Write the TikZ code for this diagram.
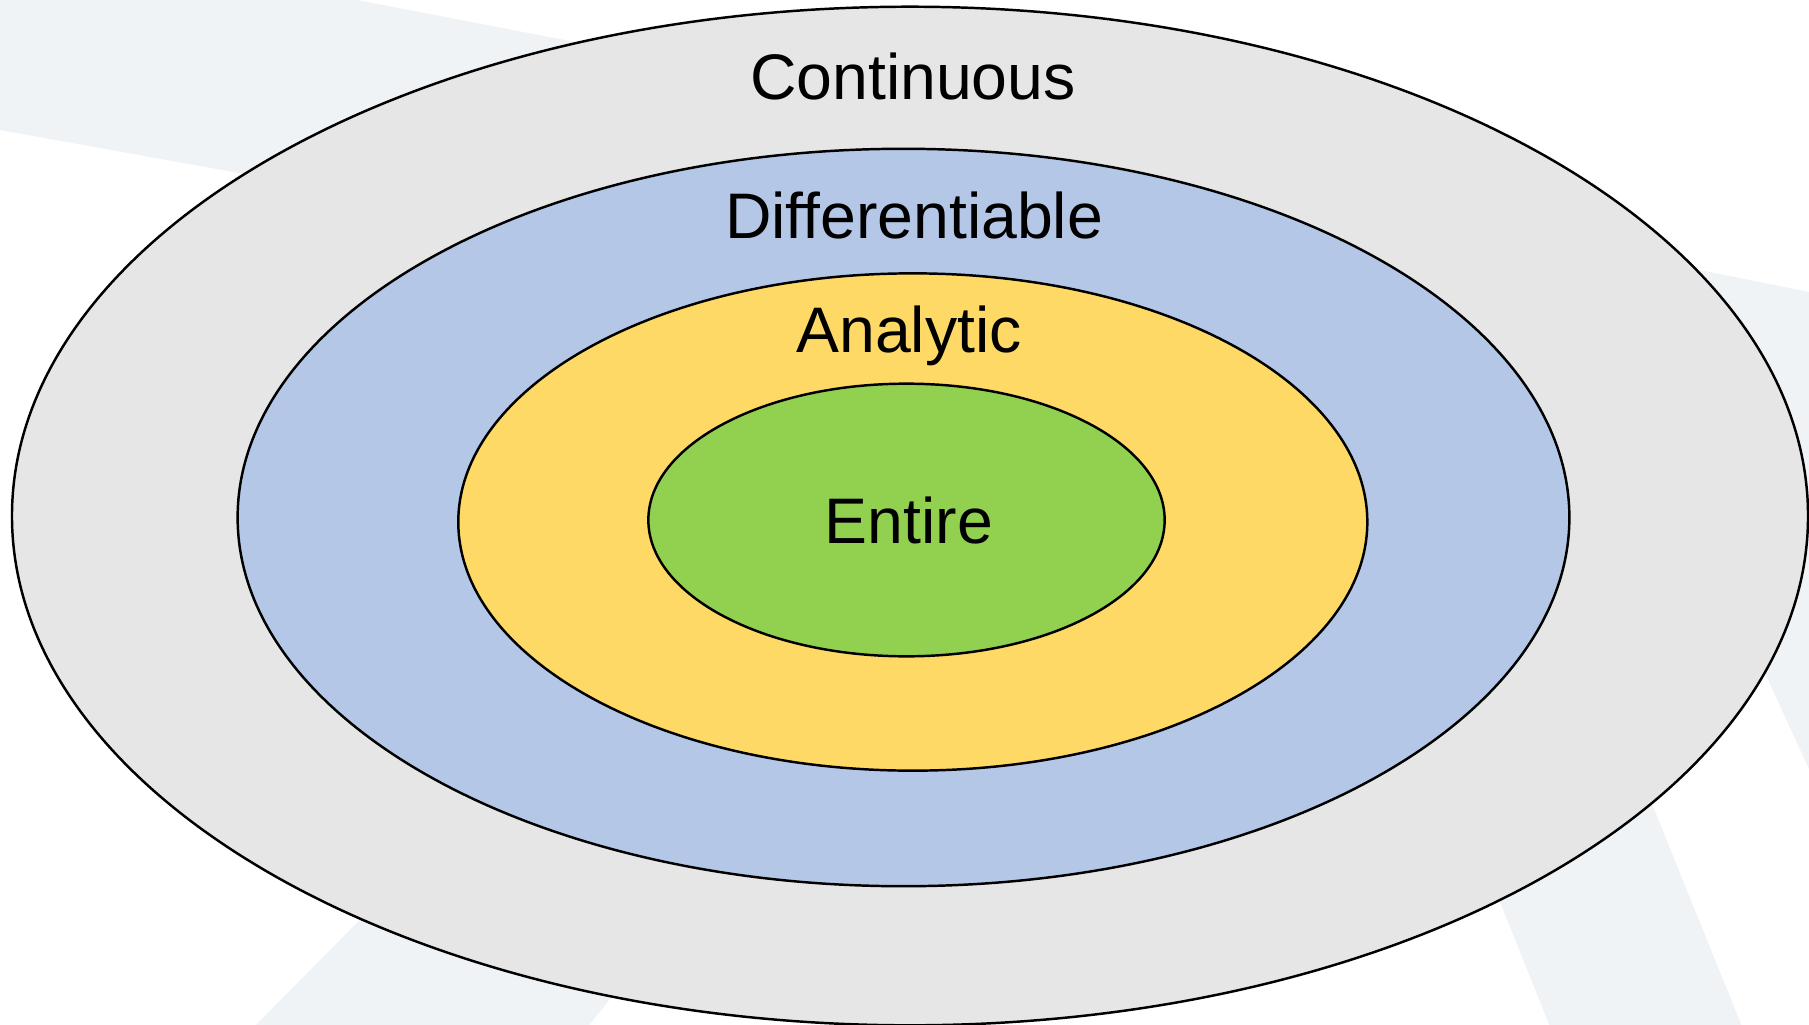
\documentclass[tikz,border=0pt]{standalone}
\usepackage{fontspec}
\setmainfont{Liberation Sans}
\usetikzlibrary{shapes.geometric}

\definecolor{ringgray}{HTML}{E6E6E6}
\definecolor{ringblue}{HTML}{B4C7E7}
\definecolor{ringyellow}{HTML}{FFD966}
\definecolor{ringgreen}{HTML}{92D050}
\definecolor{watermark}{HTML}{F0F3F6}

\tikzset{
  ring/.style={ellipse, draw=black, line width=0.7pt, inner sep=0pt, outer sep=0pt},
  setlabel/.style={anchor=base, inner sep=0pt, font=\fontsize{18.3}{22}\selectfont, text=black},
  faint/.style={fill=watermark, draw=none}
}

\begin{document}
\begin{tikzpicture}[x=0.01cm, y=-0.01cm]
  \useasboundingbox (0,0) rectangle (1809,1024);
  \fill[white] (0,0) rectangle (1809,1024);

  % faint bands in the background
  \begin{scope}
    \clip (0,0) rectangle (1809,1024);
    \fill[faint] (0,-10) -- (357,0) -- (700,66) -- (450,211) -- (0,130) -- cycle;
    \fill[faint] (1660,262) -- (1809,292) -- (1809,769) -- (1770,684) -- (1640,400) -- cycle;
    \fill[faint] (1459,800) -- (1610,700) -- (1745,1034) -- (1553,1034) -- cycle;
    \fill[faint] (247,1034) -- (429,850) -- (689,900) -- (582,1034) -- cycle;
  \end{scope}

  % nested sets
  \node[ring, fill=ringgray,   minimum width=17.95cm, minimum height=10.18cm] (cont) at (910,516) {};
  \node[ring, fill=ringblue,   minimum width=13.31cm, minimum height=7.37cm]  (diff) at (903.5,517.5) {};
  \node[ring, fill=ringyellow, minimum width=9.085cm, minimum height=4.97cm]  (anal) at (912.8,522) {};
  \node[ring, fill=ringgreen,  minimum width=5.16cm,  minimum height=2.725cm] (ent)  at (906.5,520) {};

  % labels
  \node[setlabel] (contlabel) at (913,100)   {Continuous};
  \node[setlabel] (difflabel) at (914,238)   {Differentiable};
  \node[setlabel] (anallabel) at (909,352.5) {Analytic};
  \node[setlabel] (entlabel)  at (909,543.5) {Entire};
\end{tikzpicture}
\end{document}
